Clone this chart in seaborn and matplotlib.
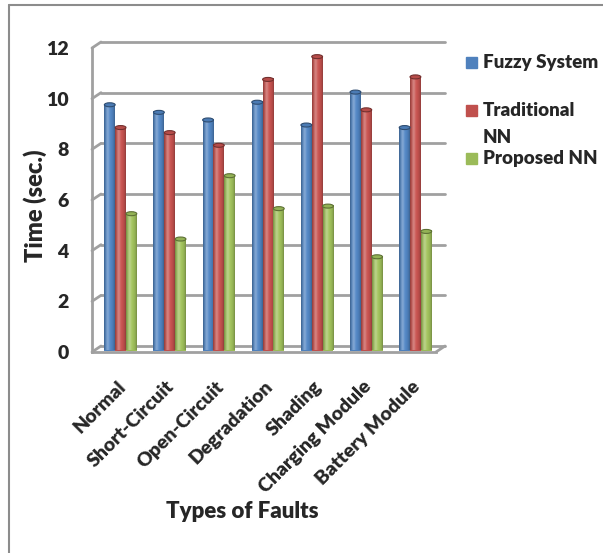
import numpy as np
import pandas as pd
import matplotlib
matplotlib.use("Agg")
import matplotlib.pyplot as plt
import seaborn as sns
from matplotlib.transforms import offset_copy
from matplotlib.patches import Rectangle, Ellipse
from matplotlib.lines import Line2D

# ---- data -------------------------------------------------------------
faults = ["Normal", "Short-Circuit", "Open-Circuit", "Degradation",
          "Shading", "Charging Module", "Battery Module"]
methods = ["Fuzzy System", "Traditional NN", "Proposed NN"]
legend_labels = ["Fuzzy System", "Traditional\nNN", "Proposed NN"]
fuzzy = [9.7, 9.4, 9.1, 9.8, 8.9, 10.2, 8.8]
traditional = [8.8, 8.6, 8.1, 10.7, 11.6, 9.5, 10.8]
proposed = [5.4, 4.4, 6.9, 5.6, 5.7, 3.7, 4.7]
yticks = [0, 2, 4, 6, 8, 10, 12]
colors = ["#4F81BD", "#C0504D", "#9BBB59"]

sns.set_style("white")
plt.rcParams["font.family"] = ["Lato", "DejaVu Sans"]
WEIGHT = "heavy"
plt.rcParams["font.weight"] = WEIGHT

GRID = "#A0A0A0"
W, H = 603, 553

df = pd.DataFrame({
    "fault": faults * 3,
    "method": np.repeat(methods, len(faults)),
    "time": fuzzy + traditional + proposed,
})

fig = plt.figure(figsize=(W / 100, H / 100), dpi=100)
fig.patch.set_facecolor("white")
ax = fig.add_axes([92 / W, 1 - 352 / H, 344 / W, 304 / H])

sns.barplot(data=df, x="fault", y="time", hue="method", order=faults,
            hue_order=methods, palette=colors, saturation=1, width=0.66,
            errorbar=None, linewidth=0, legend=False, ax=ax, zorder=3)

ax.set_xlim(-0.5, len(faults) - 0.5)
ax.set_ylim(0, 12)

# depth offsets for the pseudo-3D look
back = offset_copy(ax.transData, fig=fig, x=9, y=6, units="dots")
mid = offset_copy(ax.transData, fig=fig, x=4, y=1.5, units="dots")

# back wall gridlines and their links to the front axis
x0, x1 = ax.get_xlim()
for v in yticks:
    ax.plot([x0, x1], [v, v], color=GRID, lw=2, transform=back,
            clip_on=False, zorder=0)
    ax.annotate("", xy=(x0, v), xycoords=back, xytext=(x0, v),
                textcoords="data",
                arrowprops=dict(arrowstyle="-", color=GRID, lw=2,
                                shrinkA=0, shrinkB=0), zorder=0)
ax.annotate("", xy=(x1, 0), xycoords=back, xytext=(x1, 0), textcoords="data",
            arrowprops=dict(arrowstyle="-", color=GRID, lw=2,
                            shrinkA=0, shrinkB=0), zorder=0)

# cylinder shading on each bar
t = np.linspace(0, 1, 64)
shade = 0.72 + 0.33 * np.sin(np.pi * t) ** 0.6
glow = 0.28 * np.exp(-((t - 0.33) / 0.16) ** 2)
px_per_unit = ax.transData.transform((0, 1))[1] - ax.transData.transform((0, 0))[1]
for p in list(ax.patches):
    p.set_transform(mid)
    base = np.array(p.get_facecolor()[:3])
    bx, bw, bh = p.get_x(), p.get_width(), p.get_height()
    rgb = base[None, :] * shade[:, None]
    rgb = rgb * (1 - glow[:, None]) + glow[:, None]
    rgba = np.concatenate([np.clip(rgb, 0, 1), np.ones((64, 1))], axis=1)
    ax.imshow(rgba[None, :, :], extent=(bx, bx + bw, 0, bh), transform=mid,
              aspect="auto", interpolation="bilinear", zorder=3.5)
    ax.add_patch(Ellipse((bx + bw / 2, bh), bw, 4 / px_per_unit, transform=mid,
                         facecolor=base * 0.95, edgecolor=base * 0.6,
                         lw=0.8, zorder=4))

ax.set_xlim(x0, x1)
ax.set_ylim(0, 12)

# front axes
for s in ["top", "right"]:
    ax.spines[s].set_visible(False)
for s in ["left", "bottom"]:
    ax.spines[s].set_color(GRID)
    ax.spines[s].set_linewidth(2)
    ax.spines[s].set_zorder(5)

ax.set_yticks(yticks)
ax.set_yticklabels([str(v) for v in yticks], fontweight=WEIGHT)
ax.tick_params(axis="y", direction="out", length=5, width=2, color=GRID,
               pad=12, labelsize=14)
ax.set_xticks(np.arange(-0.5, len(faults), 1), minor=True)
ax.tick_params(axis="x", which="minor", direction="out", length=5, width=2,
               color=GRID)
ax.tick_params(axis="x", which="major", length=0, labelbottom=False)
ax.set_xlabel("")
ax.set_ylabel("")

for i, name in enumerate(faults):
    ax.annotate(name, xy=(i, 0), xytext=(6, -32), textcoords="offset pixels",
                rotation=45, rotation_mode="anchor", ha="right", va="center",
                fontsize=14, fontweight=WEIGHT)

fig.text(35 / W, 1 - 206 / H, "Time (sec.)", rotation=90, ha="center",
         va="center", fontsize=17, fontweight=WEIGHT)
fig.text(242 / W, 1 - 512 / H, "Types of Faults", ha="center", va="center",
         fontsize=16, fontweight=WEIGHT)

# legend
baselines = [68.3, 116, 164]
for lab, col, yb in zip(legend_labels, colors, baselines):
    fig.patches.append(Rectangle((466 / W, 1 - yb / H), 11 / W, 11 / H,
                                 transform=fig.transFigure, color=col))
    for k, line in enumerate(lab.split("\n")):
        fig.text(483 / W, 1 - (yb + 27.3 * k) / H, line, ha="left",
                 va="baseline", fontsize=13.5, fontweight=WEIGHT)

# chart frame
fig.add_artist(Line2D([8.5 / W, 1], [1 - 4.5 / H] * 2, transform=fig.transFigure,
                      color="#8C8C8C", lw=1.5))
fig.add_artist(Line2D([9 / W] * 2, [0, 1 - 4.5 / H], transform=fig.transFigure,
                      color="#8C8C8C", lw=1.5))

fig.savefig("out.png", dpi=100, facecolor="white")
